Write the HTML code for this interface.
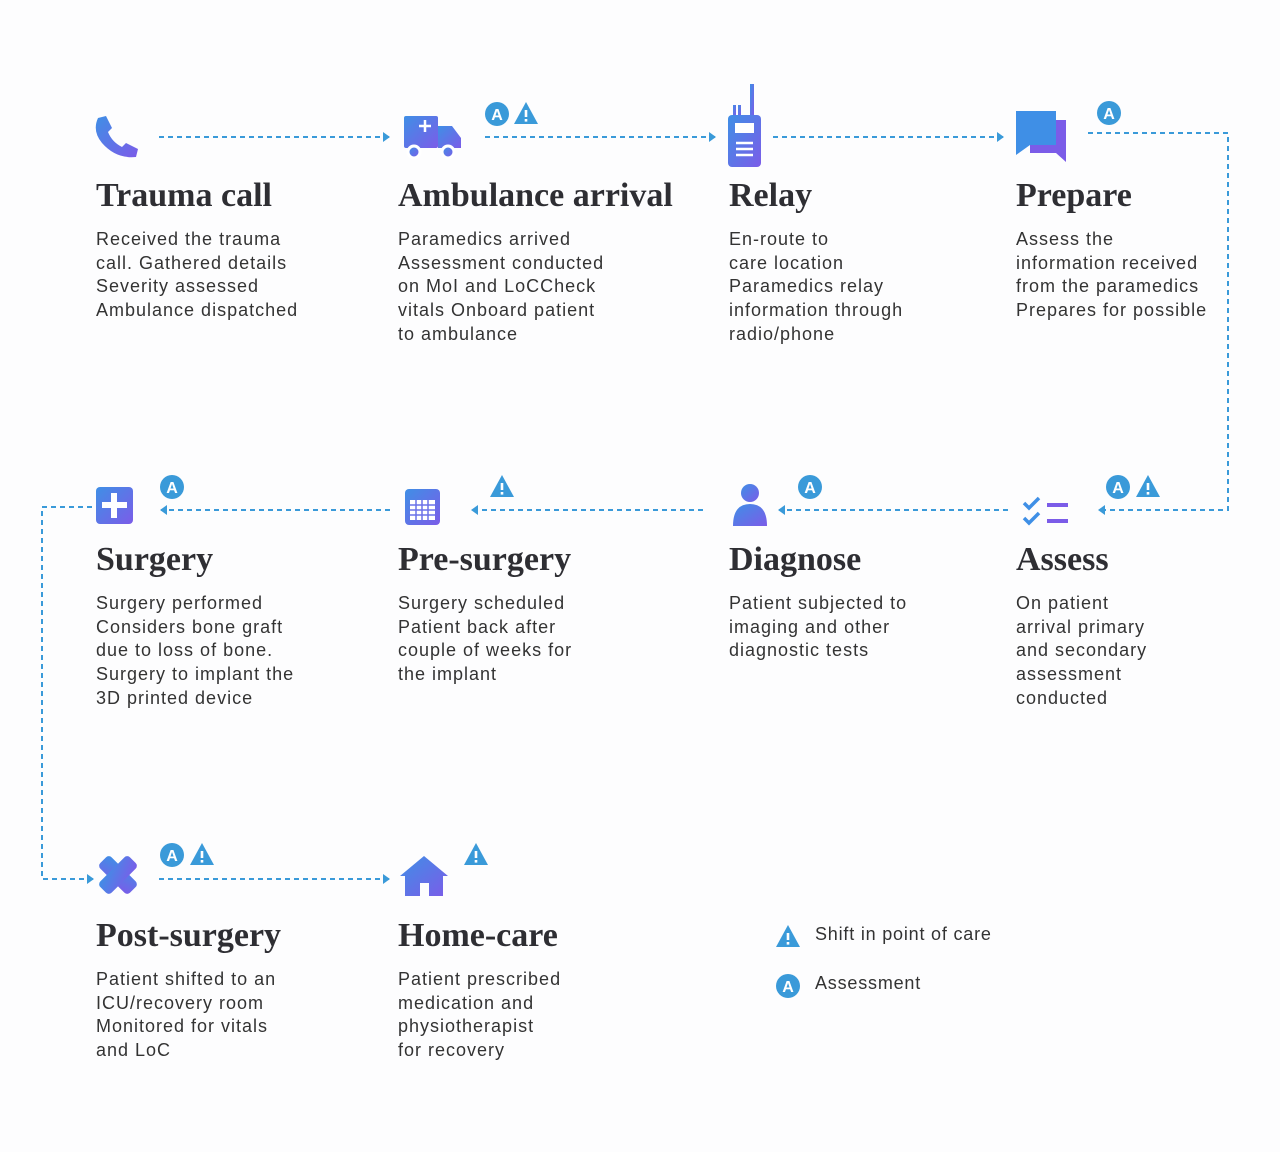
<!DOCTYPE html>
<html><head><meta charset="utf-8"><style>
body{margin:0;width:1280px;height:1152px;background:#fdfdfe;position:relative;overflow:hidden}
.t{position:absolute;font-family:"Liberation Serif",serif;font-weight:bold;font-size:34px;color:#2e2e33;letter-spacing:0px;line-height:36px;white-space:nowrap}
.b{position:absolute;font-family:"Liberation Sans",sans-serif;font-size:18px;line-height:23.7px;color:#333;letter-spacing:1px;white-space:nowrap}
svg{position:absolute;left:0;top:0}
</style></head><body>
<svg width="1280" height="1152" viewBox="0 0 1280 1152">
<defs>
<linearGradient id="g" x1="0" y1="0" x2="1" y2="1"><stop offset="0" stop-color="#3f8fe6"/><stop offset="1" stop-color="#7b5ce8"/></linearGradient>
<g id="A"><circle r="12" fill="#3a9ad9"/><text y="6" text-anchor="middle" font-family="Liberation Sans,sans-serif" font-weight="bold" font-size="16" fill="#fff">A</text></g>
<g id="T"><path d="M0,-12 L12,10 L-12,10 Z" fill="#3a9ad9"/><rect x="-1.3" y="-4" width="2.6" height="7" fill="#fff"/><rect x="-1.3" y="5" width="2.6" height="2.6" fill="#fff"/></g>
<marker id="ar" markerWidth="8" markerHeight="10" refX="6" refY="5" orient="auto" markerUnits="userSpaceOnUse"><path d="M0,0 L7,5 L0,10 Z" fill="#3a9ad9"/></marker>
</defs>
<g stroke="#3a9ad9" stroke-width="2" stroke-dasharray="5,4" fill="none">
<line x1="159" y1="137" x2="389" y2="137" marker-end="url(#ar)"/>
<line x1="485" y1="137" x2="715" y2="137" marker-end="url(#ar)"/>
<line x1="773" y1="137" x2="1003" y2="137" marker-end="url(#ar)"/>
<polyline points="1088,133 1228,133 1228,510 1099,510" marker-end="url(#ar)"/>
<line x1="1008" y1="510" x2="779" y2="510" marker-end="url(#ar)"/>
<line x1="703" y1="510" x2="472" y2="510" marker-end="url(#ar)"/>
<line x1="390" y1="510" x2="161" y2="510" marker-end="url(#ar)"/>
<polyline points="92,507 42,507 42,879 93,879" marker-end="url(#ar)"/>
<line x1="159" y1="879" x2="389" y2="879" marker-end="url(#ar)"/>
</g>
<use href="#A" x="497" y="114"/><use href="#T" x="526" y="114"/>
<use href="#A" x="1109" y="113"/>
<use href="#A" x="172" y="487"/><use href="#T" x="502" y="487"/>
<use href="#A" x="810" y="487"/><use href="#A" x="1118" y="487"/><use href="#T" x="1148" y="487"/>
<use href="#A" x="172" y="855"/><use href="#T" x="202" y="855"/><use href="#T" x="476" y="855"/>
<use href="#T" x="788" y="937"/><use href="#A" x="788" y="986"/>
<path d="M98,118 l8,-2 l6,12 l-4,4 q4,10 14,15 l4,-4 l12,6 l-2,8 q-20,2 -34,-14 q-10,-12 -4,-25z" fill="url(#g)"/>
<g fill="url(#g)"><rect x="404" y="116" width="34" height="32" rx="2"/><path d="M438,126 h14 l9,12 v10 h-23z"/></g>
<circle cx="414" cy="152" r="6" fill="url(#g)" stroke="#fff" stroke-width="3"/><circle cx="448" cy="152" r="6" fill="url(#g)" stroke="#fff" stroke-width="3"/>
<path d="M425,120 v12 M419,126 h12" stroke="#fff" stroke-width="2.5"/>
<g fill="url(#g)"><rect x="750" y="84" width="4" height="32"/><rect x="733" y="105" width="3" height="10"/><rect x="738" y="105" width="3" height="10"/><rect x="728" y="115" width="33" height="52" rx="4"/></g>
<rect x="735" y="123" width="19" height="10" fill="#fff"/><path d="M736,143 h17 M736,149 h17 M736,155 h17" stroke="#fff" stroke-width="2.5"/>
<path d="M1016,111 h40 v34 h-26 l-14,10z" fill="#3f8fe6"/><path d="M1056,120 h10 v42 l-10,-9 h-26 v-8 h26z" fill="#7b5ce8"/>
<rect x="96" y="487" width="37" height="37" rx="4" fill="url(#g)"/><path d="M114,493 v25 M102,505 h25" stroke="#fff" stroke-width="6"/>
<rect x="405" y="489" width="35" height="36" rx="4" fill="url(#g)"/><rect x="410" y="500" width="25" height="20" fill="#fff"/><path d="M410,505 h25 M410,510 h25 M410,515 h25 M416,500 v20 M422,500 v20 M428,500 v20" stroke="#6a72e8" stroke-width="1.5"/>
<circle cx="750" cy="493" r="9" fill="url(#g)"/><path d="M733,526 q0,-22 17,-22 q17,0 17,22z" fill="url(#g)"/>
<path d="M1024,503 l5,5 l10,-10 M1024,518 l5,5 l10,-10" stroke="#3f8fe6" stroke-width="3.5" fill="none"/><path d="M1047,505 h21 M1047,521 h21" stroke="#7b5ce8" stroke-width="4"/>
<g transform="translate(118,875) rotate(45)"><rect x="-21" y="-8" width="42" height="16" rx="4" fill="url(#g)"/></g><g transform="translate(118,875) rotate(-45)"><rect x="-21" y="-8" width="42" height="16" rx="4" fill="url(#g)"/></g>
<path d="M424,856 l24,20 h-5 v20 h-38 v-20 h-5z" fill="url(#g)"/><rect x="420" y="883" width="9" height="13" fill="#fdfdfe"/>
<text x="815" y="940" font-family="Liberation Sans,sans-serif" font-size="18" fill="#333" letter-spacing="0.8">Shift in point of care</text>
<text x="815" y="989" font-family="Liberation Sans,sans-serif" font-size="18" fill="#333" letter-spacing="0.8">Assessment</text>
</svg>
<div class="t" style="left:96px;top:178px">Trauma call</div>
<div class="t" style="left:398px;top:178px">Ambulance arrival</div>
<div class="t" style="left:729px;top:178px">Relay</div>
<div class="t" style="left:1016px;top:178px">Prepare</div>
<div class="b" style="left:96px;top:228px">Received the trauma<br>call. Gathered details<br>Severity assessed<br>Ambulance dispatched</div>
<div class="b" style="left:398px;top:228px">Paramedics arrived<br>Assessment conducted<br>on MoI and LoCCheck<br>vitals Onboard patient<br>to ambulance</div>
<div class="b" style="left:729px;top:228px">En-route to<br>care location<br>Paramedics relay<br>information through<br>radio/phone</div>
<div class="b" style="left:1016px;top:228px">Assess the<br>information received<br>from the paramedics<br>Prepares for possible</div>
<div class="t" style="left:96px;top:542px">Surgery</div>
<div class="t" style="left:398px;top:542px">Pre-surgery</div>
<div class="t" style="left:729px;top:542px">Diagnose</div>
<div class="t" style="left:1016px;top:542px">Assess</div>
<div class="b" style="left:96px;top:592px">Surgery performed<br>Considers bone graft<br>due to loss of bone.<br>Surgery to implant the<br>3D printed device</div>
<div class="b" style="left:398px;top:592px">Surgery scheduled<br>Patient back after<br>couple of weeks for<br>the implant</div>
<div class="b" style="left:729px;top:592px">Patient subjected to<br>imaging and other<br>diagnostic tests</div>
<div class="b" style="left:1016px;top:592px">On patient<br>arrival primary<br>and secondary<br>assessment<br>conducted</div>
<div class="t" style="left:96px;top:918px">Post-surgery</div>
<div class="t" style="left:398px;top:918px">Home-care</div>
<div class="b" style="left:96px;top:968px">Patient shifted to an<br>ICU/recovery room<br>Monitored for vitals<br>and LoC</div>
<div class="b" style="left:398px;top:968px">Patient prescribed<br>medication and<br>physiotherapist<br>for recovery</div>
</body></html>
